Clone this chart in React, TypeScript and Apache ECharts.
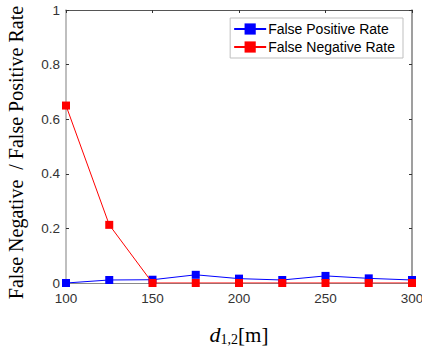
import React, { useEffect, useRef } from "react";
import * as echarts from "echarts";

const distances = [100, 125, 150, 175, 200, 225, 250, 275, 300];
const falsePositiveRate = [0.0, 0.011, 0.012, 0.03, 0.016, 0.011, 0.026, 0.017, 0.011];
const falseNegativeRate = [0.65, 0.213, 0.0, 0.0, 0.0, 0.0, 0.0, 0.0, 0.0];
const seriesNames = ["False Positive Rate", "False Negative Rate"];
const seriesColors = ["#0000ff", "#ff0000"];

export default function App() {
  const ref = useRef<HTMLDivElement>(null);
  useEffect(() => {
    if (!ref.current) return;
    const chart = echarts.init(ref.current, null, { renderer: "svg" });
    const labelColor = "#333333";
    const labelFont = "Liberation Sans";
    const axisBase = (color: string, width: number) => ({
      type: "value" as const,
      axisLine: { show: true, onZero: false, lineStyle: { color, width } },
      axisTick: { show: true, inside: true, length: 3, lineStyle: { color: "#333333" } },
      splitLine: { show: false },
    });
    const mk = (vals: number[]) => distances.map((d, i) => [d, vals[i]]);
    chart.setOption({
      animation: false,
      backgroundColor: "#ffffff",
      grid: { left: 66, right: 10, top: 10, bottom: 67, containLabel: false, outerBoundsMode: "none" },
      legend: {
        show: true,
        right: 19,
        top: 18,
        orient: "vertical",
        backgroundColor: "#ffffff",
        borderColor: "#bfbfbf",
        borderWidth: 1,
        borderRadius: 0,
        padding: [4, 8, 4, 3],
        itemGap: 4,
        itemWidth: 32,
        itemHeight: 14,
        textStyle: { fontFamily: labelFont, fontSize: 14, color: "#000000", padding: [0, 0, 0, -3] },
        data: seriesNames,
      },
      xAxis: [
        {
          ...axisBase("#8a8a8a", 1),
          position: "bottom",
          min: 100,
          max: 300,
          interval: 50,
          axisLabel: { color: labelColor, fontFamily: labelFont, fontSize: 13.5, margin: 8 },
          name: "{i|d}{s|1,2}{r|[m]}",
          nameLocation: "middle",
          nameGap: 40,
          nameTextStyle: {
            rich: {
              i: { fontFamily: "Liberation Serif", fontStyle: "italic", fontSize: 22, color: "#000" },
              s: { fontFamily: "Liberation Serif", fontSize: 14, color: "#000", verticalAlign: "bottom", padding: [9, 0, 0, 0] },
              r: { fontFamily: "Liberation Serif", fontSize: 21, color: "#000" },
            },
          },
        },
        {
          ...axisBase("#555555", 1),
          position: "top",
          min: 100,
          max: 300,
          interval: 50,
          axisLabel: { show: false },
        },
      ],
      yAxis: [
        {
          ...axisBase("#aaaaaa", 1.5),
          position: "left",
          min: 0,
          max: 1,
          interval: 0.2,
          axisLabel: { color: labelColor, fontFamily: labelFont, fontSize: 13.5, margin: 6 },
          name: "False Negative  / False Positive Rate",
          nameLocation: "middle",
          nameGap: 40,
          nameTextStyle: { fontFamily: "Liberation Serif", fontSize: 20, color: "#000", padding: [0, 12, 0, 0] },
        },
        {
          ...axisBase("#7f7f7f", 1.5),
          position: "right",
          min: 0,
          max: 1,
          interval: 0.2,
          axisLabel: { show: false },
        },
      ],
      series: [
        {
          name: seriesNames[0],
          type: "line",
          data: mk(falsePositiveRate),
          symbol: "rect",
          symbolSize: 8,
          lineStyle: { color: seriesColors[0], width: 1 },
          itemStyle: { color: seriesColors[0] },
          z: 3,
        },
        {
          name: seriesNames[1],
          type: "line",
          data: mk(falseNegativeRate),
          symbol: "rect",
          symbolSize: 8,
          lineStyle: { color: seriesColors[1], width: 1 },
          itemStyle: { color: seriesColors[1] },
          z: 4,
        },
      ],
    });
    return () => chart.dispose();
  }, []);
  return <div ref={ref} style={{ width: 422, height: 350, position: "absolute", left: 0, top: 0 }} />;
}
